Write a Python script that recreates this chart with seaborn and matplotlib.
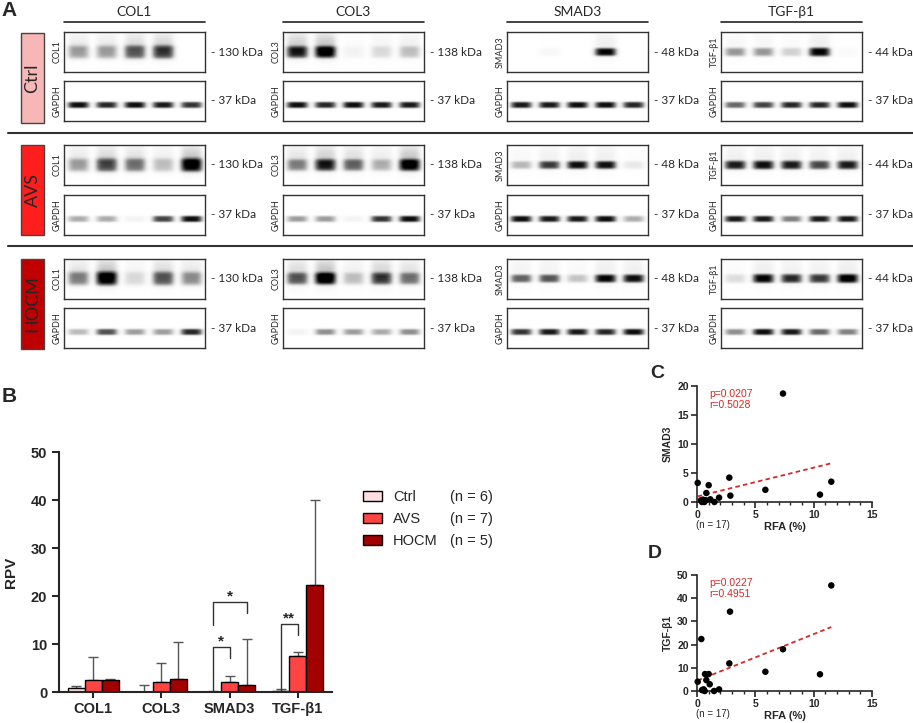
import numpy as np
import pandas as pd
import matplotlib
matplotlib.use("Agg")
import matplotlib.pyplot as plt
import seaborn as sns
from matplotlib.patches import Patch, Rectangle

# ---------------- data ----------------
groups = ["Ctrl", "AVS", "HOCM"]
group_n = ["(n = 6)", "(n = 7)", "(n = 5)"]
proteins = ["COL1", "COL3", "SMAD3", "TGF-β1"]
kda = ["130", "138", "48", "44"]

# western blot lane intensities (0 = none, 1 = saturated), rows = proteins, 5 lanes
ctrl_target = [[0.35, 0.35, 0.60, 0.70, 0.00],
               [0.80, 0.95, 0.05, 0.15, 0.25],
               [0.00, 0.03, 0.00, 0.95, 0.00],
               [0.40, 0.40, 0.20, 0.95, 0.02]]
ctrl_gapdh = [[0.95, 0.85, 0.95, 0.90, 0.80],
              [0.95, 0.85, 0.95, 0.90, 0.90],
              [0.90, 0.90, 0.95, 0.95, 0.85],
              [0.60, 0.75, 0.85, 0.85, 0.95]]
avs_target = [[0.35, 0.65, 0.50, 0.25, 0.95],
              [0.45, 0.80, 0.55, 0.30, 0.95],
              [0.30, 0.75, 0.90, 0.90, 0.10],
              [0.85, 0.90, 0.85, 0.70, 0.85]]
avs_gapdh = [[0.35, 0.35, 0.05, 0.75, 0.95],
             [0.40, 0.40, 0.05, 0.80, 0.95],
             [0.95, 0.90, 0.90, 0.95, 0.35],
             [0.90, 0.90, 0.50, 0.90, 0.90]]
hocm_target = [[0.45, 0.95, 0.15, 0.60, 0.40],
               [0.60, 1.00, 0.25, 0.70, 0.50],
               [0.60, 0.65, 0.25, 0.95, 0.90],
               [0.15, 0.95, 0.80, 0.75, 1.00]]
hocm_gapdh = [[0.30, 0.70, 0.40, 0.40, 0.85],
              [0.05, 0.45, 0.40, 0.35, 0.45],
              [0.80, 0.90, 0.90, 0.85, 0.95],
              [0.45, 0.95, 0.90, 0.60, 0.50]]

# panel B: relative protein values (mean) and upper end of error bar
rpv_ctrl = [0.8, 0.05, 0.1, 0.2]
rpv_avs = [2.4, 2.1, 2.1, 7.4]
rpv_hocm = [2.4, 2.8, 1.5, 22.3]
err_top_ctrl = [1.2, 1.4, 0.15, 0.6]
err_top_avs = [7.3, 6.0, 3.4, 8.4]
err_top_hocm = [2.7, 10.4, 11.1, 40.0]

# panels C and D: RFA (%) vs protein level, n = 17
rfa_c = [0.06, 0.34, 0.43, 0.51, 0.63, 0.74, 0.80, 1.00, 1.14, 1.49, 1.89,
         2.77, 2.86, 5.86, 7.37, 10.54, 11.51]
smad3_c = [3.3, 0.3, 0.0, 0.4, 0.0, 0.3, 1.55, 2.9, 0.46, 0.0, 0.75,
           4.2, 1.1, 2.1, 18.7, 1.27, 3.5]
rfa_d = [0.06, 0.37, 0.43, 0.57, 0.66, 0.69, 0.80, 1.00, 1.09, 1.46, 1.89,
         2.77, 2.83, 5.86, 7.37, 10.54, 11.51]
tgf_d = [4.0, 22.4, 0.4, 0.7, 0.0, 7.3, 4.7, 7.3, 2.9, 0.0, 0.7,
         11.9, 34.2, 8.3, 18.0, 7.2, 45.5]

# ---------------- style ----------------
sns.set_style("ticks")
plt.rcParams["font.family"] = ["Liberation Sans", "DejaVu Sans"]
blot_font = ["Lato", "DejaVu Sans"]

W, H = 913, 723
fig = plt.figure(figsize=(W / 100, H / 100), dpi=100)


def frac(x, y, w, h):
    return [x / W, 1 - (y + h) / H, w / W, h / H]


group_colors = ["#F7B7B7", "#FF1E1E", "#C00000"]
bar_colors = ["#FFDDE0", "#FF4444", "#A30000"]

# overlay axes in pixel coordinates for panel A text and lines
ax0 = fig.add_axes([0, 0, 1, 1])
ax0.set_xlim(0, W)
ax0.set_ylim(H, 0)
ax0.axis("off")

blot_x = [64, 283, 507, 721]
blot_w = 141
blot_h = 40
row_y = [[32, 81], [145, 195], [259, 308]]
group_box_y = [33, 145, 259]
target_thick = [0.17, 0.15, 0.10, 0.11]


def blot_image(lanes, thick, ypos, smear):
    xs = np.linspace(0, 1, 220)
    ys = np.linspace(0, 1, 70)
    X, Y = np.meshgrid(xs, ys)
    img = np.zeros_like(X)
    for k, v in enumerate(lanes):
        cx = 0.1 + 0.2 * k
        lane = np.exp(-((X - cx) / 0.075) ** 4)
        img += v * lane * np.exp(-((Y - ypos) / thick) ** 4)
        img += smear * v * lane * np.exp(-((Y - ypos + 0.2) / 0.3) ** 2)
    return np.clip(img, 0, 1) ** 0.8


all_target = [ctrl_target, avs_target, hocm_target]
all_gapdh = [ctrl_gapdh, avs_gapdh, hocm_gapdh]

for g in range(3):
    for p in range(4):
        for r, (lanes, name) in enumerate([(all_target[g][p], proteins[p]),
                                           (all_gapdh[g][p], "GAPDH")]):
            y0 = row_y[g][r]
            ax = fig.add_axes(frac(blot_x[p], y0, blot_w, blot_h))
            if r == 0:
                img = blot_image(lanes, target_thick[p], 0.5, 0.25 if p < 2 else 0.08)
                label = f"- {kda[p]} kDa"
            else:
                img = blot_image(lanes, 0.08, 0.6, 0.0)
                label = "- 37 kDa"
            ax.imshow(img, cmap="Greys", vmin=0, vmax=1, aspect="auto",
                      extent=(0, 1, 1, 0), interpolation="bilinear")
            ax.set_xticks([])
            ax.set_yticks([])
            for s in ax.spines.values():
                s.set_linewidth(1.0)
                s.set_color("#333333")
            ax0.text(blot_x[p] - 7, y0 + blot_h / 2, name, rotation=90,
                     ha="center", va="center", fontsize=6.5, family=blot_font)
            ax0.text(blot_x[p] + blot_w + 6, y0 + blot_h / 2, label,
                     ha="left", va="center", fontsize=8.5, family=blot_font)

for p in range(4):
    ax0.text(blot_x[p] + blot_w / 2, 12, proteins[p], ha="center", va="center",
             fontsize=10, family=blot_font)
    ax0.plot([blot_x[p], blot_x[p] + blot_w], [22, 22], color="#222222", lw=1.2)

for g in range(3):
    ax0.add_patch(Rectangle((21, group_box_y[g]), 23, 90, facecolor=group_colors[g],
                            edgecolor="#444444", lw=1.0))
    ax0.text(32.5, group_box_y[g] + 45, groups[g], rotation=90, ha="center",
             va="center", fontsize=13, family=blot_font)

for ysep in [133, 246]:
    ax0.plot([8, W], [ysep, ysep], color="#333333", lw=1.5)

for lab, (lx, ly) in zip("ABCD", [(9, 11), (9, 396), (657, 373), (655, 553)]):
    ax0.text(lx, ly, lab, ha="center", va="center", fontsize=15 if lab in "AB" else 14,
             fontweight="bold")

# ---------------- panel B ----------------
df_b = pd.DataFrame({
    "protein": proteins * 3,
    "group": np.repeat(groups, 4),
    "rpv": rpv_ctrl + rpv_avs + rpv_hocm,
})
axb = fig.add_axes(frac(59, 452, 273, 240))
sns.barplot(data=df_b, x="protein", y="rpv", hue="group", hue_order=groups,
            palette=bar_colors, saturation=1, width=0.75, edgecolor="black",
            linewidth=1.0, errorbar=None, legend=False, ax=axb, zorder=2)

err_tops = [err_top_ctrl, err_top_avs, err_top_hocm]
centers = []
for cont, tops in zip(axb.containers, err_tops):
    cx = []
    for bar, top in zip(cont, tops):
        xc = bar.get_x() + bar.get_width() / 2
        h = bar.get_height()
        cx.append(xc)
        axb.errorbar(xc, h, yerr=[[0], [top - h]], color="#555555", lw=1.0,
                     capsize=3.5, capthick=1.0, zorder=1)
    centers.append(cx)

# significance brackets (SMAD3 and TGF-b1 groups)
brk = dict(color="#333333", lw=1.0, clip_on=False)
xs_c, xs_a, xs_h = centers[0][2], centers[1][2], centers[2][2]
axb.plot([xs_c, xs_c, xs_a, xs_a], [0.3, 9.4, 9.4, 7.1], **brk)
axb.text((xs_c + xs_a) / 2, 10.6, "*", ha="center", va="center", fontsize=11, fontweight="bold")
axb.plot([xs_c, xs_c, xs_h, xs_h], [14.0, 18.8, 18.8, 16.4], **brk)
axb.text((xs_c + xs_h) / 2, 20.0, "*", ha="center", va="center", fontsize=11, fontweight="bold")
xt_c, xt_a = centers[0][3], centers[1][3]
axb.plot([xt_c, xt_c, xt_a, xt_a], [0.4, 14.1, 14.1, 11.9], **brk)
axb.text((xt_c + xt_a) / 2, 15.4, "**", ha="center", va="center", fontsize=11, fontweight="bold")

axb.set_ylim(0, 50)
axb.set_xlim(-0.5, 3.5)
axb.set_yticks(range(0, 51, 10))
axb.set_xlabel("")
axb.set_ylabel("RPV", fontsize=11, fontweight="bold", labelpad=9)
sns.despine(ax=axb)
for s in ["left", "bottom"]:
    axb.spines[s].set_linewidth(1.5)
axb.tick_params(axis="y", length=5, width=1.5, labelsize=10.5)
axb.tick_params(axis="x", length=4, width=1.5, labelsize=10.5)
for t in axb.get_xticklabels() + axb.get_yticklabels():
    t.set_fontweight("bold")

handles = [Patch(facecolor=c, edgecolor="black", lw=1.0) for c in bar_colors]
leg = fig.legend(handles, groups, loc="upper left", bbox_to_anchor=(363 / W, 1 - 490 / H),
                 frameon=False, fontsize=10.5, borderpad=0, borderaxespad=0,
                 handlelength=1.3, handleheight=0.75, handletextpad=0.75,
                 labelspacing=0.55)
fig.canvas.draw()
renderer = fig.canvas.get_renderer()
for t, n in zip(leg.get_texts(), group_n):
    bb = t.get_window_extent(renderer)
    yc = (bb.y0 + bb.y1) / 2 / fig.bbox.height
    fig.text(450 / W, yc, n, ha="left", va="center", fontsize=10.5)


# ---------------- panels C and D ----------------
def scatter_panel(top, x, y, ymax, ystep, ylabel, ptxt):
    ax = fig.add_axes(frac(697, top, 175, 116))
    sns.regplot(x=x, y=y, ci=None, scatter=False, truncate=True, ax=ax,
                line_kws=dict(color="#D42A2A", lw=1.3, dashes=(2.5, 1.8)))
    sns.scatterplot(x=x, y=y, color="black", s=22, edgecolor="none", ax=ax,
                    clip_on=False, zorder=3)
    ax.set_xlim(0, 15)
    ax.set_ylim(0, ymax)
    ax.set_xticks([0, 5, 10, 15])
    ax.set_xticks(range(16), minor=True)
    ax.set_yticks(range(0, ymax + 1, ystep))
    sns.despine(ax=ax)
    for s in ["left", "bottom"]:
        ax.spines[s].set_linewidth(1.2)
    ax.tick_params(axis="both", which="major", length=4, width=1.2, labelsize=7.5, pad=2)
    ax.tick_params(axis="x", which="minor", length=2.5, width=1.0)
    for t in ax.get_xticklabels() + ax.get_yticklabels():
        t.set_fontweight("bold")
    ax.set_xlabel("RFA (%)", fontsize=8, fontweight="bold", labelpad=1)
    ax.set_ylabel(ylabel, fontsize=7.5, fontweight="bold", labelpad=3)
    ax.text(0.07, 0.97, ptxt, transform=ax.transAxes, ha="left", va="top",
            fontsize=7.5, color="#D42A2A", linespacing=1.1)
    ax0.text(713, top + 139, "(n = 17)", ha="center", va="center", fontsize=7)
    return ax


scatter_panel(386, rfa_c, smad3_c, 20, 5, "SMAD3", "p=0.0207\nr=0.5028")
scatter_panel(575, rfa_d, tgf_d, 50, 10, "TGF-β1", "p=0.0227\nr=0.4951")

fig.savefig("out.png", dpi=100)
